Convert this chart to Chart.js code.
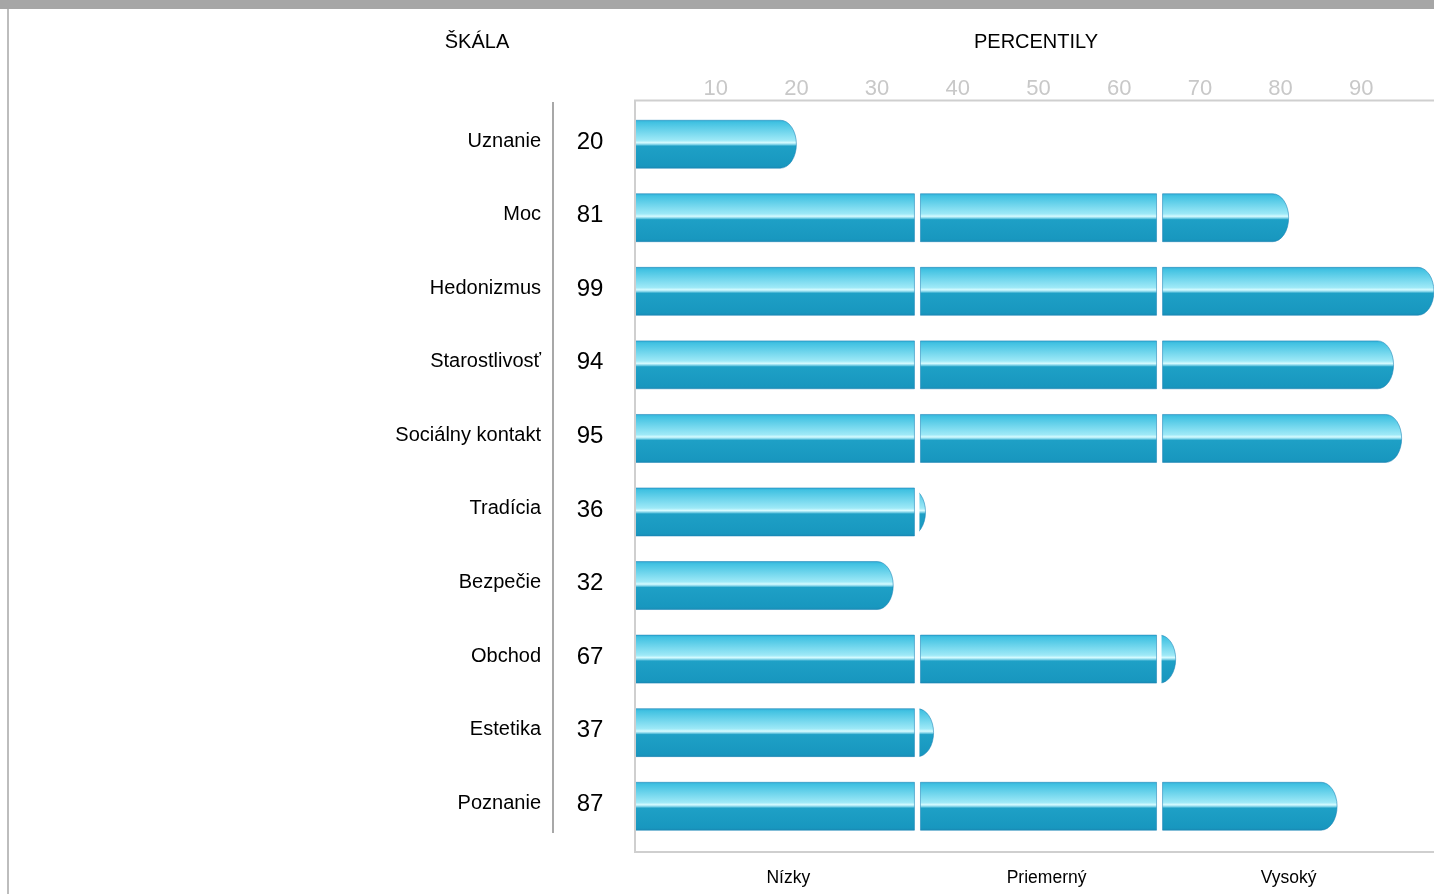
<!DOCTYPE html>
<html lang="sk">
<head>
<meta charset="utf-8">
<title>Percentily</title>
<script src="https://cdn.jsdelivr.net/npm/chart.js@4.4.0/dist/chart.umd.min.js"></script>
<style>
    html, body { margin: 0; padding: 0; background: #fff; overflow: hidden; }
    canvas { display: block; }
</style>
</head>
<body>
<canvas id="graf" width="1442" height="894"></canvas>
<script>
// Údaje grafu
const skaly = ['Uznanie', 'Moc', 'Hedonizmus', 'Starostlivosť', 'Sociálny kontakt',
               'Tradícia', 'Bezpečie', 'Obchod', 'Estetika', 'Poznanie'];
const percentily = [20, 81, 99, 94, 95, 36, 32, 67, 37, 87];
const hornePasma = [35, 65, 100];
const nazvyPasiem = ['Nízky', 'Priemerný', 'Vysoký'];
const znackyOsi = [10, 20, 30, 40, 50, 60, 70, 80, 90];

const PISMO = "'Liberation Sans', Arial, Helvetica, sans-serif";
Chart.defaults.font.family = PISMO;

// rozdelenie hodnoty do troch pásiem (nízky / priemerný / vysoký)
function pasmo(index) {
    const od = index === 0 ? 0 : hornePasma[index - 1];
    const po = hornePasma[index];
    return percentily.map(v => Math.max(0, Math.min(v, po) - od));
}

function gradientTyce(ctx, hore, vyska) {
    const g = ctx.createLinearGradient(0, hore, 0, hore + vyska);
    g.addColorStop(0, '#33b0d8');
    g.addColorStop(0.05, '#42c2e2');
    g.addColorStop(0.42, '#9ee9f7');
    g.addColorStop(0.47, '#d6fbff');
    g.addColorStop(0.505, '#86d6ea');
    g.addColorStop(0.54, '#1ea0c6');
    g.addColorStop(0.95, '#1897bf');
    g.addColorStop(1, '#1a8db6');
    return g;
}

const pozadie = {
    id: 'pozadie',
    beforeDraw(chart) {
        const ctx = chart.ctx;
        ctx.save();
        ctx.fillStyle = '#ffffff';
        ctx.fillRect(0, 0, chart.width, chart.height);
        ctx.fillStyle = '#a6a6a6';
        ctx.fillRect(0, 0, chart.width, 9);
        ctx.fillStyle = '#bdbdbd';
        ctx.fillRect(7, 9, 2, chart.height - 9);
        ctx.restore();
    }
};

const tyce = {
    id: 'tyce',
    afterDatasetsDraw(chart) {
        const ctx = chart.ctx;
        ctx.save();
        chart.data.datasets.forEach((ds, d) => {
            const meta = chart.getDatasetMeta(d);
            meta.data.forEach((el, i) => {
                if (!ds.data[i]) return;
                const p = el.getProps(['x', 'y', 'base', 'height'], true);
                let left = Math.min(p.x, p.base);
                let right = Math.max(p.x, p.base);
                const posledny = percentily[i] <= hornePasma[d];
                if (d > 0) left += 3;
                if (!posledny) right -= 3;
                const hore = p.y - p.height / 2;
                const dole = p.y + p.height / 2;
                const rx = 16;

                ctx.save();
                ctx.beginPath();
                ctx.rect(left - 1, hore - 1, right - left + 2, p.height + 2);
                ctx.clip();
                ctx.beginPath();
                if (posledny) {
                    const zac = Math.min(left, right - rx);
                    ctx.moveTo(zac, hore);
                    ctx.lineTo(right - rx, hore);
                    ctx.ellipse(right - rx, p.y, rx, p.height / 2, 0, -Math.PI / 2, Math.PI / 2);
                    ctx.lineTo(zac, dole);
                } else {
                    ctx.rect(left, hore, right - left, p.height);
                }
                ctx.closePath();
                ctx.fillStyle = gradientTyce(ctx, hore, p.height);
                ctx.fill();
                ctx.lineWidth = 1;
                ctx.strokeStyle = 'rgba(24,130,180,0.55)';
                ctx.stroke();
                ctx.restore();
            });
        });

        // rámik grafu
        const a = chart.chartArea;
        ctx.strokeStyle = '#cfcfcf';
        ctx.lineWidth = 2;
        ctx.beginPath();
        ctx.moveTo(a.right + 2, a.top - 7);
        ctx.lineTo(a.left, a.top - 7);
        ctx.lineTo(a.left, a.bottom + 9);
        ctx.lineTo(a.right + 2, a.bottom + 9);
        ctx.stroke();
        ctx.restore();
    },
    afterDraw(chart) {
        const ctx = chart.ctx;
        const y = chart.scales.y;
        const x = chart.scales.x;
        ctx.save();
        ctx.fillStyle = '#000';
        ctx.textBaseline = 'middle';

        ctx.font = '20px ' + PISMO;
        ctx.textAlign = 'center';
        ctx.fillText('ŠKÁLA', 477, 42);
        ctx.fillText('PERCENTILY', 1036, 42);

        skaly.forEach((nazov, i) => {
            const yy = y.getPixelForValue(i);
            ctx.font = '20px ' + PISMO;
            ctx.textAlign = 'right';
            ctx.fillText(nazov, 541, yy - 3);
            ctx.font = '24px ' + PISMO;
            ctx.textAlign = 'center';
            ctx.fillText(String(percentily[i]), 590, yy - 2);
        });

        // zvislá deliaca čiara
        ctx.fillStyle = '#a8a8a8';
        ctx.fillRect(552, 102, 2, 731);

        // popisy pásiem pod grafom
        const stredy = [19, 51, 81];
        ctx.fillStyle = '#000';
        ctx.font = '17.5px ' + PISMO;
        ctx.textAlign = 'center';
        nazvyPasiem.forEach((n, i) => {
            ctx.fillText(n, x.getPixelForValue(stredy[i]), 878);
        });
        ctx.restore();
    }
};

const ctx = document.getElementById('graf').getContext('2d');
new Chart(ctx, {
    type: 'bar',
    data: {
        labels: skaly,
        datasets: [0, 1, 2].map(d => ({
            label: nazvyPasiem[d],
            data: pasmo(d),
            backgroundColor: 'rgba(0,0,0,0)',
            borderWidth: 0
        }))
    },
    options: {
        indexAxis: 'y',
        responsive: false,
        animation: false,
        devicePixelRatio: 1,
        layout: { padding: { left: 635, right: 0, top: 71, bottom: 51 } },
        datasets: { bar: { categoryPercentage: 1, barPercentage: 0.652 } },
        plugins: {
            legend: { display: false },
            tooltip: { enabled: false }
        },
        scales: {
            x: {
                type: 'linear',
                position: 'top',
                stacked: true,
                min: 0,
                max: 100,
                grid: { display: false, drawTicks: false },
                border: { display: false },
                ticks: { color: '#c8c8c8', padding: 5, font: { size: 22 } },
                afterBuildTicks: s => { s.ticks = znackyOsi.map(v => ({ value: v })); }
            },
            y: { type: 'category', stacked: true, display: false }
        }
    },
    plugins: [pozadie, tyce]
});
</script>
</body>
</html>
